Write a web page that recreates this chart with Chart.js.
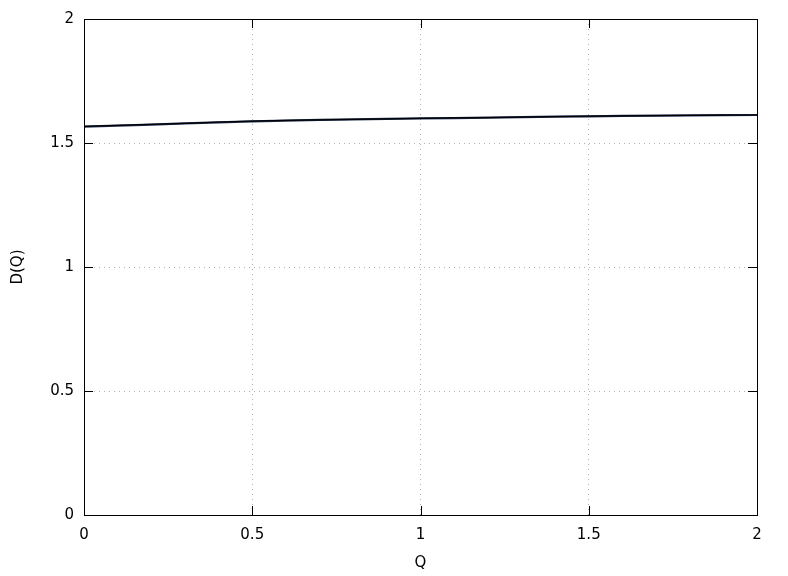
<!DOCTYPE html>
<html>
<head>
<meta charset="utf-8">
<script src="https://cdn.jsdelivr.net/npm/chart.js@4/dist/chart.umd.min.js"></script>
<style>
  html, body { margin: 0; padding: 0; background: #fff; }
  #wrap { width: 788px; height: 576px; }
</style>
</head>
<body>
<div id="wrap"><canvas id="chart" width="788" height="576"></canvas></div>
<script>
// values
const qValues = [0, 0.1, 0.2, 0.3, 0.4, 0.5, 0.6, 0.7, 0.8, 0.9, 1.0,
                 1.1, 1.2, 1.3, 1.4, 1.5, 1.6, 1.7, 1.8, 1.9, 2.0];
const dFit = [1.567, 1.571, 1.575, 1.579, 1.584, 1.588, 1.591, 1.593, 1.595, 1.597, 1.599,
              1.601, 1.602, 1.604, 1.606, 1.608, 1.609, 1.610, 1.611, 1.612, 1.613];
const dData = [1.566, 1.570, 1.574, 1.579, 1.583, 1.587, 1.590, 1.593, 1.595, 1.597, 1.599,
               1.600, 1.602, 1.604, 1.606, 1.607, 1.609, 1.610, 1.611, 1.612, 1.613];
const xTicks = [0, 0.5, 1, 1.5, 2];
const yTicks = [0, 0.5, 1, 1.5, 2];

const FONT = { family: 'DejaVu Sans', size: 15 };

// gnuplot-like frame with inward ticks on all four sides
const framePlugin = {
  id: 'frame',
  afterDraw(chart) {
    const { ctx, chartArea: a, scales } = chart;
    ctx.save();
    ctx.strokeStyle = '#000';
    ctx.lineWidth = 1;
    ctx.beginPath();
    xTicks.forEach(v => {
      const px = Math.round(scales.x.getPixelForValue(v)) + 0.5;
      ctx.moveTo(px, a.bottom); ctx.lineTo(px, a.bottom - 9);
      ctx.moveTo(px, a.top); ctx.lineTo(px, a.top + 9);
    });
    yTicks.forEach(v => {
      const py = Math.round(scales.y.getPixelForValue(v)) + 0.5;
      ctx.moveTo(a.left, py); ctx.lineTo(a.left + 9, py);
      ctx.moveTo(a.right, py); ctx.lineTo(a.right - 9, py);
    });
    ctx.stroke();
    ctx.strokeRect(Math.round(a.left) + 0.5, Math.round(a.top) + 0.5,
                   Math.round(a.right - a.left), Math.round(a.bottom - a.top));
    ctx.restore();
  }
};

const fmt = v => String(v);

new Chart(document.getElementById('chart'), {
  type: 'line',
  data: {
    datasets: [
      {
        label: 'fit',
        data: qValues.map((q, i) => ({ x: q, y: dFit[i] })),
        borderColor: '#000000',
        borderWidth: 1.2,
        pointRadius: 0,
        tension: 0
      },
      {
        label: 'D(Q)',
        data: qValues.map((q, i) => ({ x: q, y: dData[i] })),
        borderColor: '#1f2f4f',
        borderWidth: 2.2,
        pointRadius: 0,
        tension: 0
      }
    ]
  },
  options: {
    responsive: false,
    animation: false,
    layout: { padding: { top: 18, right: 31, left: 0, bottom: 0 } },
    plugins: { legend: { display: false }, tooltip: { enabled: false } },
    scales: {
      x: {
        type: 'linear',
        min: 0, max: 2,
        afterBuildTicks: s => { s.ticks = xTicks.map(v => ({ value: v })); },
        afterFit: s => { s.height = 61; },
        border: { display: false, dash: [1, 4] },
        grid: { color: '#b0b0b0', lineWidth: 1, drawTicks: false },
        ticks: { font: FONT, color: '#000', padding: 11, maxRotation: 0, callback: fmt },
        title: { display: true, text: 'Q', font: FONT, color: '#000', padding: { top: 4, bottom: 4 } }
      },
      y: {
        min: 0, max: 2,
        afterBuildTicks: s => { s.ticks = yTicks.map(v => ({ value: v })); },
        afterFit: s => { s.width = 84; },
        border: { display: false, dash: [1, 4] },
        grid: { color: '#b0b0b0', lineWidth: 1, drawTicks: false },
        ticks: { font: FONT, color: '#000', padding: 10, callback: fmt },
        title: { display: true, text: 'D(Q)', font: FONT, color: '#000', padding: { top: 9, bottom: 0 } }
      }
    }
  },
  plugins: [framePlugin]
});
</script>
</body>
</html>
